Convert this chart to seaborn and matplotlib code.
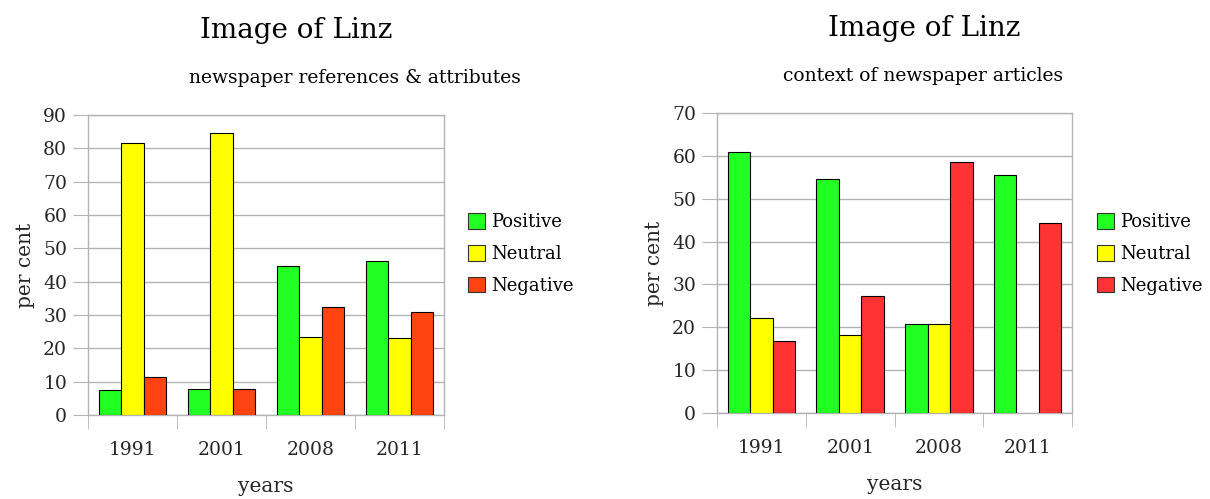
import numpy as np
import pandas as pd
import matplotlib.pyplot as plt
import seaborn as sns

# Data
years = ["1991", "2001", "2008", "2011"]
series = ["Positive", "Neutral", "Negative"]

# left: newspaper references & attributes
refs_positive = [7.5, 7.8, 44.6, 46.1]
refs_neutral = [81.5, 84.5, 23.3, 23.0]
refs_negative = [11.3, 7.8, 32.3, 30.8]

# right: context of newspaper articles (no neutral bar for 2011)
ctx_positive = [61.0, 54.5, 20.7, 55.5]
ctx_neutral = [22.2, 18.2, 20.7, np.nan]
ctx_negative = [16.8, 27.3, 58.6, 44.4]

left_colors = ["#22ff22", "#ffff00", "#ff4411"]
right_colors = ["#22ff22", "#ffff00", "#ff3333"]


def to_long(pos, neu, neg):
    rows = []
    for name, vals in zip(series, [pos, neu, neg]):
        for y, v in zip(years, vals):
            rows.append({"year": y, "kind": name, "value": v})
    return pd.DataFrame(rows)


sns.set_style("white")
plt.rcParams["font.family"] = ["DejaVu Serif"]
plt.rcParams["text.color"] = "black"

fig = plt.figure(figsize=(12.1, 4.99), dpi=100)
W, H = 1210, 499


def px_axes(x0, y0, x1, y1):
    # rectangle in pixel coords (top-left origin)
    return fig.add_axes([x0 / W, 1 - y1 / H, (x1 - x0) / W, (y1 - y0) / H])


def draw(ax, df, colors, ymax, legend_x, legend_y):
    sns.barplot(data=df, x="year", y="value", hue="kind", hue_order=series,
                palette=colors, width=0.76, edgecolor="black", linewidth=0.8,
                saturation=1, ax=ax, legend=False, zorder=3)
    ax.set_ylim(0, ymax)
    ax.set_xlim(-0.5, len(years) - 0.5)
    ax.set_yticks(np.arange(0, ymax + 1, 10))
    ax.yaxis.grid(True, color="#b3b3b3", linewidth=1)
    ax.set_axisbelow(True)
    for s in ax.spines.values():
        s.set_color("#b3b3b3")
        s.set_linewidth(1)
    ax.tick_params(axis="y", length=11, color="#b3b3b3", labelsize=13.5,
                   left=True, pad=4)
    ax.tick_params(axis="x", which="major", length=0, labelsize=13.5, pad=19)
    ax.set_xticks(np.arange(-0.5, len(years)), minor=True)
    ax.tick_params(axis="x", which="minor", length=10, color="#b3b3b3",
                   bottom=True)
    ax.set_xlabel("years", fontsize=14.5, labelpad=13)
    ax.set_ylabel("per cent", fontsize=14.5, labelpad=6)
    # legend
    handles = [plt.Rectangle((0, 0), 1, 1, facecolor=c, edgecolor="#333333",
                             linewidth=0.8) for c in colors]
    fig.legend(handles, series, loc="center left",
               bbox_to_anchor=(legend_x / W, 1 - legend_y / H),
               frameon=False, fontsize=13, handlelength=0.95,
               handleheight=0.95, handletextpad=0.35, labelspacing=0.75,
               borderpad=0, borderaxespad=0)


ax1 = px_axes(88, 115, 444, 415)
draw(ax1, to_long(refs_positive, refs_neutral, refs_negative),
     left_colors, 90, 468, 254)
ax2 = px_axes(717, 113, 1072, 413)
draw(ax2, to_long(ctx_positive, ctx_neutral, ctx_negative),
     right_colors, 70, 1097, 254)

fig.text(296 / W, 1 - 30 / H, "Image of Linz", ha="center", va="center",
         fontsize=20)
fig.text(355 / W, 1 - 78 / H, "newspaper references & attributes",
         ha="center", va="center", fontsize=13.5)
fig.text(924 / W, 1 - 28 / H, "Image of Linz", ha="center", va="center",
         fontsize=20)
fig.text(923 / W, 1 - 76 / H, "context of newspaper articles",
         ha="center", va="center", fontsize=13.5)

fig.savefig("out.png", dpi=100)
